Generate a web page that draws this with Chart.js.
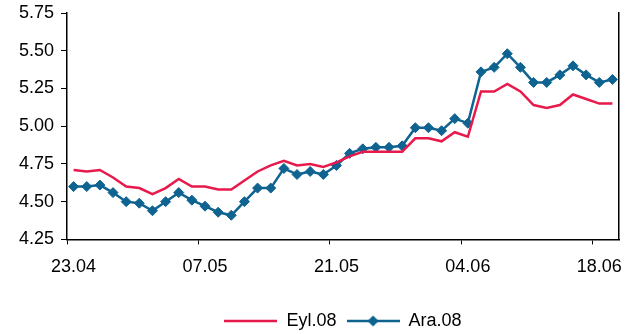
<!DOCTYPE html>
<html>
<head>
<meta charset="utf-8">
<script src="https://cdn.jsdelivr.net/npm/chart.js@4/dist/chart.umd.min.js"></script>
<style>
html, body { margin: 0; padding: 0; background: #fff; }
#wrap { width: 631px; height: 334px; }
</style>
</head>
<body>
<div id="wrap"><canvas id="chartFaiz"></canvas></div>
<script>
// iş günleri (23.04 - 19.06)
const tarihler = [
    "23.04","24.04","25.04","28.04","29.04","30.04",
    "01.05","02.05","05.05","06.05","07.05","08.05","09.05","12.05","13.05",
    "14.05","15.05","16.05","19.05","20.05","21.05","22.05","23.05","26.05",
    "27.05","28.05","29.05","30.05","02.06","03.06","04.06","05.06","06.06",
    "09.06","10.06","11.06","12.06","13.06","16.06","17.06","18.06","19.06"
];

const eyl08 = [
    4.71,4.70,4.71,4.66,4.60,4.59,4.55,4.59,4.65,4.60,
    4.60,4.58,4.58,4.64,4.70,4.74,4.77,4.74,4.75,4.73,
    4.76,4.80,4.83,4.83,4.83,4.83,4.92,4.92,4.90,4.96,
    4.93,5.23,5.23,5.28,5.23,5.14,5.12,5.14,5.21,5.18,
    5.15,5.15
];

const ara08 = [
    4.60,4.60,4.61,4.56,4.50,4.49,4.44,4.50,4.56,4.51,
    4.47,4.43,4.41,4.50,4.59,4.59,4.72,4.68,4.70,4.68,
    4.74,4.82,4.85,4.86,4.86,4.87,4.99,4.99,4.97,5.05,
    5.02,5.36,5.39,5.48,5.39,5.29,5.29,5.34,5.40,5.34,
    5.29,5.31
];

const yMin = 4.25;
const yMax = 5.75;
const yStep = 0.25;

const KIRMIZI = "#e8194b";
const MAVI = "#0f6391";

function legendIcon(color, marker){
    const c = document.createElement("canvas");
    c.width = 53;
    c.height = 14;
    const g = c.getContext("2d");
    g.strokeStyle = color;
    g.lineWidth = 2.5;
    g.beginPath();
    g.moveTo(0, 7);
    g.lineTo(53, 7);
    g.stroke();
    if (marker){
        g.fillStyle = color;
        g.beginPath();
        g.moveTo(26.5, 1.5);
        g.lineTo(32, 7);
        g.lineTo(26.5, 12.5);
        g.lineTo(21, 7);
        g.closePath();
        g.fill();
    }
    return c;
}

const font = { family: "'Liberation Sans', Arial, sans-serif", size: 18 };

new Chart(document.getElementById("chartFaiz"), {
    type: "line",
    data: {
        labels: tarihler,
        datasets: [{
            label: "Eyl.08",
            data: eyl08,
            borderColor: KIRMIZI,
            backgroundColor: KIRMIZI,
            borderWidth: 2.5,
            pointRadius: 0,
            tension: 0
        },{
            label: "Ara.08",
            data: ara08,
            borderColor: MAVI,
            backgroundColor: MAVI,
            borderWidth: 2.5,
            pointRadius: 5,
            pointHoverRadius: 5,
            pointBorderWidth: 1,
            pointStyle: "rectRot",
            tension: 0
        }]
    },
    options: {
        responsive: true,
        maintainAspectRatio: false,
        animation: false,
        layout: { padding: { left: 12, right: 4, top: 13, bottom: -6 } },
        plugins: {
            legend: {
                position: "bottom",
                fullSize: false,
                labels: {
                    color: "#000",
                    font: font,
                    usePointStyle: true,
                    pointStyleWidth: 53,
                    padding: 10,
                    generateLabels(chart){
                        return chart.data.datasets.map((ds, i) => ({
                            text: ds.label,
                            fontColor: "#000",
                            pointStyle: legendIcon(ds.borderColor, i === 1),
                            datasetIndex: i,
                            lineWidth: 0,
                            strokeStyle: "transparent",
                            fillStyle: "transparent"
                        }));
                    }
                }
            },
            tooltip: { enabled: false }
        },
        scales: {
            x: {
                offset: true,
                border: { display: true, color: "#000", width: 1.5 },
                grid: {
                    offset: true,
                    drawOnChartArea: false,
                    tickLength: 5,
                    color(ctx){
                        return ctx.index % 10 === 0 ? "#000" : "rgba(0,0,0,0)";
                    }
                },
                ticks: {
                    autoSkip: false,
                    maxRotation: 0,
                    color: "#000",
                    font: font,
                    padding: 12,
                    callback(val, i){
                        return i % 10 === 0 ? tarihler[i] : "";
                    }
                },
                afterFit(scale){
                    scale.height += 12;
                }
            },
            y: {
                min: yMin,
                max: yMax,
                border: { display: true, color: "#000", width: 1.5 },
                grid: { drawOnChartArea: false, tickLength: 6, color: "#000" },
                ticks: {
                    stepSize: yStep,
                    color: "#000",
                    font: font,
                    padding: 7,
                    callback(v){ return v.toFixed(2); }
                },
                afterFit(scale){
                    scale.paddingTop = 0;
                    scale.paddingBottom = 0;
                }
            },
            y2: {
                position: "right",
                min: yMin,
                max: yMax,
                border: { display: true, color: "#000", width: 1.5 },
                grid: { display: false },
                ticks: { display: false }
            }
        }
    }
});
</script>
</body>
</html>
